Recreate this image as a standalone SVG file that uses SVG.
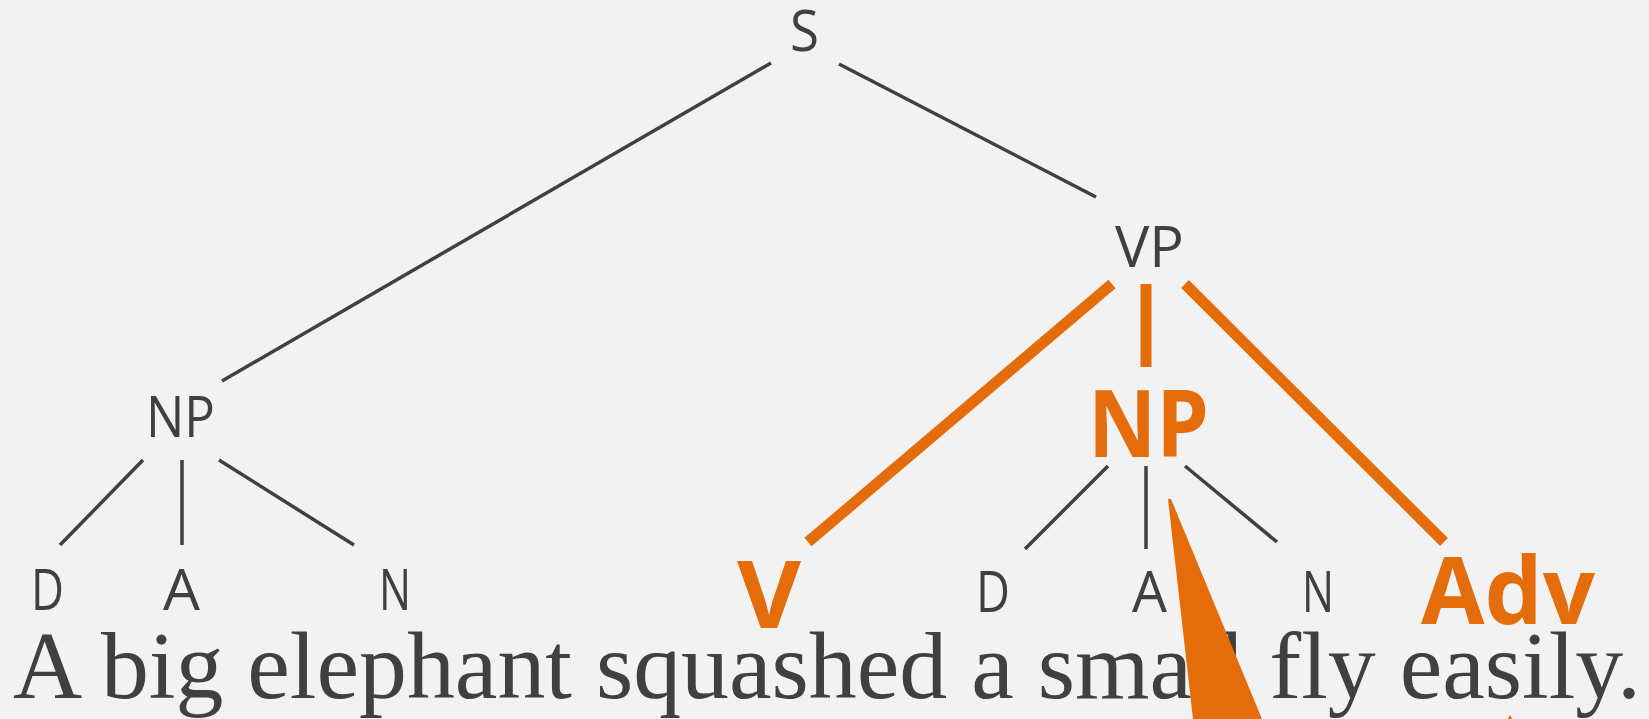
<svg xmlns="http://www.w3.org/2000/svg" width="1649" height="719" viewBox="0 0 1649 719">
  <style>
    .lbl { font-family: "Open Sans", "Noto Sans", sans-serif; font-size: 56px; fill: #404040; }
    .hl { font-family: "Open Sans", "Noto Sans", sans-serif; font-size: 94px; font-weight: bold; fill: #e46c0a; }
    .sent { font-family: "Liberation Serif", "Times New Roman", serif; font-size: 95px; fill: #404040; }
    .edge { stroke: #404040; stroke-width: 3.5; fill: none; }
    .hedge { stroke: #e46c0a; stroke-width: 11; fill: none; }
    .ptr { fill: #e46c0a; }
  </style>
  <rect x="0" y="0" width="1649" height="719" fill="#f2f2f2"/>

  <g id="connectors">
    <line class="edge" x1="771" y1="63" x2="222" y2="381"/>
    <line class="edge" x1="839" y1="64" x2="1096" y2="197"/>
    <line class="edge" x1="143" y1="460" x2="60" y2="545"/>
    <line class="edge" x1="182" y1="460" x2="182" y2="545"/>
    <line class="edge" x1="219" y1="460" x2="354" y2="545"/>
    <line class="hedge" x1="1112" y1="284" x2="808" y2="542"/>
    <line class="hedge" x1="1146" y1="284" x2="1146" y2="367"/>
    <line class="hedge" x1="1185" y1="284" x2="1444" y2="542"/>
    <line class="edge" x1="1108" y1="466" x2="1025" y2="549"/>
    <line class="edge" x1="1146" y1="466" x2="1146" y2="549"/>
    <line class="edge" x1="1185" y1="466" x2="1277" y2="542"/>
  </g>

  <g id="node-S"><text class="lbl" x="790" y="51" textLength="29" lengthAdjust="spacingAndGlyphs">S</text></g>
  <g id="node-NP1"><text class="lbl" x="146" y="437" textLength="69" lengthAdjust="spacingAndGlyphs">NP</text></g>
  <g id="node-VP"><text class="lbl" x="1115" y="267" textLength="69" lengthAdjust="spacingAndGlyphs">VP</text></g>
  <g id="node-D1"><text class="lbl" x="31" y="610" textLength="33" lengthAdjust="spacingAndGlyphs">D</text></g>
  <g id="node-A1"><text class="lbl" x="163" y="610" textLength="37" lengthAdjust="spacingAndGlyphs">A</text></g>
  <g id="node-N1"><text class="lbl" x="379" y="610" textLength="32" lengthAdjust="spacingAndGlyphs">N</text></g>
  <g id="node-V"><text class="hl" x="737" y="628" textLength="64" lengthAdjust="spacingAndGlyphs">V</text></g>
  <g id="node-NP2"><text class="hl" x="1088" y="457" textLength="121" lengthAdjust="spacingAndGlyphs">NP</text></g>
  <g id="node-Adv"><text class="hl" x="1421" y="624" textLength="174" lengthAdjust="spacingAndGlyphs">Adv</text></g>
  <g id="node-D2"><text class="lbl" x="976" y="612" textLength="34" lengthAdjust="spacingAndGlyphs">D</text></g>
  <g id="node-A2"><text class="lbl" x="1132" y="612" textLength="35" lengthAdjust="spacingAndGlyphs">A</text></g>
  <g id="node-N2"><text class="lbl" x="1302" y="612" textLength="32" lengthAdjust="spacingAndGlyphs">N</text></g>

  <g id="sentence"><text class="sent" x="13" y="698" textLength="1628" lengthAdjust="spacingAndGlyphs">A big elephant squashed a small fly easily.</text></g>

  <g id="pointers">
    <polygon class="ptr" points="1168,499 1171,499 1262,719 1193,719"/>
    <polygon class="ptr" points="1510,715 1514,722 1506,722"/>
  </g>
</svg>
